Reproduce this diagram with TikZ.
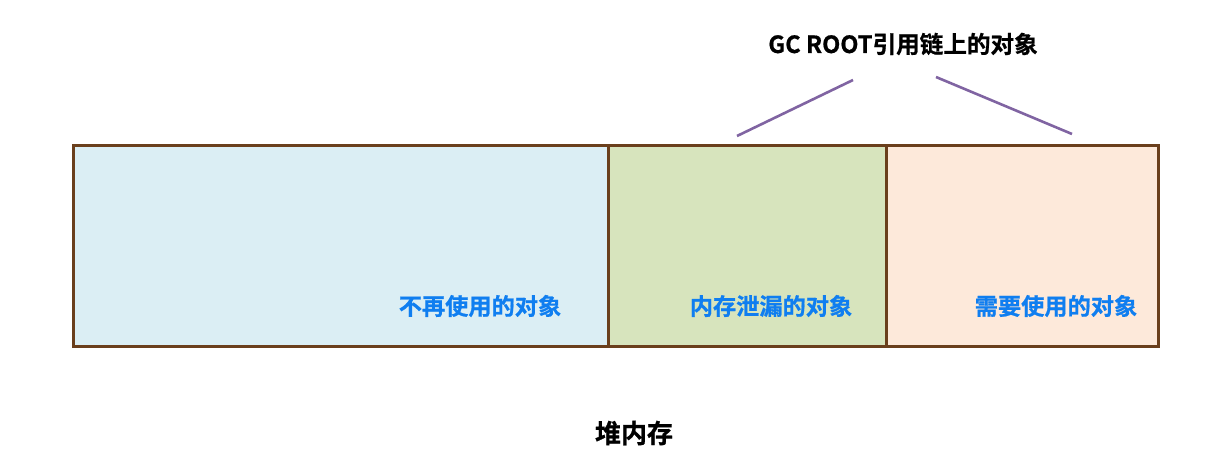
\documentclass[tikz,border=0pt]{standalone}
\usepackage{fontspec}
\setmainfont{Noto Sans CJK SC}[BoldFont={Noto Sans CJK SC Bold}]
\newfontfamily\cjkb{Noto Sans CJK SC Bold}[FakeBold=0.8]
\definecolor{brownline}{HTML}{6A3F1C}
\definecolor{fillA}{HTML}{DBEEF4}
\definecolor{fillB}{HTML}{D7E4BD}
\definecolor{fillC}{HTML}{FDE9DA}
\definecolor{labelblue}{HTML}{0F7EF0}
\definecolor{purpleline}{HTML}{8064A2}
\begin{document}
\begin{tikzpicture}[x=1pt,y=-1pt,
  region/.style={draw=brownline,line width=2.8pt,inner sep=0pt,anchor=north west,minimum height=201pt},
  blabel/.style={text=labelblue,font=\cjkb\fontsize{23.2}{23.2}\selectfont,inner sep=0pt},
  link/.style={draw=purpleline,line width=2.6pt}]
\useasboundingbox (0,0) rectangle (1215,456);
\node[region,fill=fillA,minimum width=535pt] (free) at (72,144) {};
\node[region,fill=fillB,minimum width=278pt] (leak) at (607,144) {};
\node[region,fill=fillC,minimum width=272pt] (used) at (885,144) {};
\node[blabel] (lfree) at (480,306) {不再使用的对象};
\node[blabel] (lleak) at (771,306) {内存泄漏的对象};
\node[blabel] (lused) at (1056,306) {需要使用的对象};
\node[font=\cjkb\fontsize{23.6}{23.6}\selectfont,inner sep=0pt] (root) at (903,44) {GC ROOT引用链上的对象};
\node[font=\cjkb\fontsize{26}{26}\selectfont,inner sep=0pt] (heap) at (634,433) {堆内存};
\coordinate (a1) at (737,136);
\coordinate (a2) at (853,80);
\coordinate (b1) at (936,77);
\coordinate (b2) at (1072,134);
\draw[link] (a1) -- (a2);
\draw[link] (b1) -- (b2);
\end{tikzpicture}
\end{document}
